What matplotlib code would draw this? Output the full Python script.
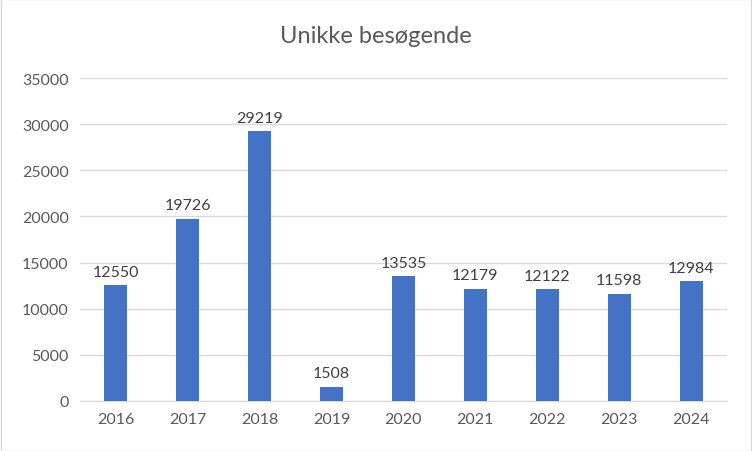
import matplotlib.pyplot as plt
from matplotlib.patches import Rectangle

years = ["2016", "2017", "2018", "2019", "2020", "2021", "2022", "2023", "2024"]
visitors = [12550, 19726, 29219, 1508, 13535, 12179, 12122, 11598, 12984]

plt.rcParams["font.family"] = "Lato"
text_color = "#595959"

fig = plt.figure(figsize=(7.52, 4.52), dpi=100)
ax = fig.add_axes([0.106, 0.111, 0.861, 0.714])

x = range(len(years))
bars = ax.bar(x, visitors, width=0.32, color="#4472C4", zorder=3)
for xi, v in zip(x, visitors):
    ax.text(xi, v + 700, str(v), ha="center", va="bottom", fontsize=11.5, color="#404040")

ax.set_xlim(-0.5, len(years) - 0.5)
ax.set_ylim(0, 35000)
ax.set_yticks(range(0, 35001, 5000))
ax.set_xticks(list(x))
ax.set_xticklabels(years)
ax.yaxis.grid(True, color="#D9D9D9", linewidth=1, zorder=0)
ax.tick_params(axis="both", length=0, labelsize=11.5, colors=text_color, pad=8)
for side in ["top", "right", "left"]:
    ax.spines[side].set_visible(False)
ax.spines["bottom"].set_color("#D9D9D9")

fig.text(0.5, 0.92, "Unikke besøgende", ha="center", va="center", fontsize=17, color=text_color)
fig.patches.append(Rectangle((0.001, 0.001), 0.998, 0.998, transform=fig.transFigure,
                             fill=False, edgecolor="#D9D9D9", linewidth=1))

fig.savefig("out.png", dpi=100)
